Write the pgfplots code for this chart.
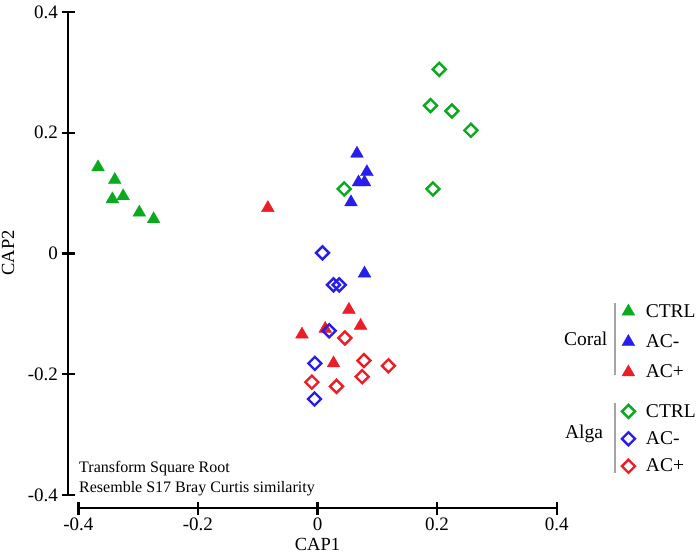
\documentclass[border=0pt]{standalone}
\usepackage{pgfplots}
\pgfplotsset{compat=1.18}
\usepackage{fontspec}
\setmainfont{Liberation Serif}
\definecolor{cgreen}{RGB}{10,170,30}
\definecolor{cblue}{RGB}{40,30,235}
\definecolor{cred}{RGB}{235,30,40}
\definecolor{cgray}{RGB}{165,165,165}
\pgfplotsset{
  ctri/.style={only marks, color=#1, mark=triangle*, mark size=7.4pt, mark options={fill=#1, draw=#1, line width=0.3pt}},
  adia/.style={only marks, color=#1, mark=square, mark size=4.6pt, mark options={rotate=45, draw=#1, fill=white, line width=2.4pt}},
}
\begin{document}
\begin{tikzpicture}[x=1pt,y=1pt]
\useasboundingbox (0,0) rectangle (700,554);
\begin{axis}[
  at={(78.3pt,59pt)}, anchor=south west,
  width=478.4pt, height=483pt, scale only axis,
  xmin=-0.4, xmax=0.4, ymin=-0.4, ymax=0.4,
  axis x line=bottom, axis y line=left,
  axis x line shift=13pt, axis y line shift=10.3pt,
  axis line style={-, line width=2.4pt, black},
  every outer x axis line/.append style={line width=2.4pt},
  every outer y axis line/.append style={line width=2.4pt},
  xtick={-0.4,-0.2,0,0.2,0.4}, ytick={-0.4,-0.2,0,0.2,0.4},
  tick align=center, major tick length=13pt,
  major tick style={line width=2.4pt, black},
  tick label style={font=\fontsize{19}{19}\selectfont},
  /pgf/number format/assume math mode=true,
  xlabel={CAP1}, ylabel={CAP2},
  label style={font=\fontsize{18.5}{19}\selectfont},
  xlabel style={at={(axis description cs:0.5,-0.1014)}, anchor=center},
  ylabel style={at={(axis description cs:-0.1470,0.501)}, anchor=center},
  clip=false,
  legend cell align=left,
  legend style={draw=none, fill=none, at={(1.136,0.3996)}, anchor=north west,
    font=\fontsize{19.5}{20}\selectfont, row sep=12pt, inner sep=0pt,
    /tikz/every odd column/.append style={column sep=9pt}},
]
% Coral CTRL
\addplot[ctri=cgreen] coordinates {
(-0.367,0.143) (-0.339,0.122) (-0.343,0.090) (-0.325,0.095) (-0.298,0.068) (-0.274,0.057)};
\addlegendentry{CTRL}
% Coral AC-
\addplot[ctri=cblue] coordinates {
(0.066,0.1655) (0.0826,0.135) (0.0686,0.118) (0.0786,0.118) (0.056,0.085) (0.0786,-0.033)};
\addlegendentry{AC-}
% Coral AC+
\addplot[ctri=cred] coordinates {
(-0.083,0.0755) (0.0525,-0.093) (-0.026,-0.134) (0.0129,-0.1245) (0.072,-0.1195) (0.0268,-0.1817)};
\addlegendentry{AC+}
% Alga CTRL
\addplot[adia=cgreen, forget plot] coordinates {
(0.2035,0.305) (0.189,0.245) (0.2247,0.236) (0.2565,0.204) (0.193,0.107) (0.0446,0.107)};
% Alga AC-
\addplot[adia=cblue, forget plot] coordinates {
(0.0084,0.001) (0.0268,-0.052) (0.0363,-0.052) (0.0196,-0.128) (-0.0044,-0.182) (-0.005,-0.241)};
% Alga AC+
\addplot[adia=cred, forget plot] coordinates {
(0.0458,-0.140) (0.0776,-0.1773) (0.1187,-0.186) (0.0747,-0.204) (-0.0094,-0.213) (0.0318,-0.220)};
\node[anchor=base west, font=\fontsize{16}{16}\selectfont, inner sep=0pt] at (rel axis cs:0.0015,0.0476) {Transform Square Root};
\node[anchor=base west, font=\fontsize{16}{16}\selectfont, inner sep=0pt] at (rel axis cs:0.0015,0.0062) {Resemble S17 Bray Curtis similarity};
\end{axis}
\begin{axis}[
  at={(78.3pt,59pt)}, anchor=south west,
  width=478.4pt, height=483pt, scale only axis,
  xmin=0, xmax=1, ymin=0, ymax=1, hide axis,
  legend cell align=left,
  legend style={draw=none, fill=none, at={(1.136,0.1926)}, anchor=north west,
    font=\fontsize{19.5}{20}\selectfont, row sep=9pt, inner sep=0pt,
    /tikz/every odd column/.append style={column sep=9pt}},
]
\addlegendimage{adia=cgreen}\addlegendentry{CTRL}
\addlegendimage{adia=cblue}\addlegendentry{AC-}
\addlegendimage{adia=cred}\addlegendentry{AC+}
\end{axis}
\node[font=\fontsize{19.5}{20}\selectfont] at (585.7,215) {Coral};
\node[font=\fontsize{19.5}{20}\selectfont] at (584,120) {Alga};
\draw[cgray, line width=1.5pt] (615,251) -- (615,179);
\draw[cgray, line width=1.5pt] (615,151) -- (615,81);
\end{tikzpicture}
\end{document}
